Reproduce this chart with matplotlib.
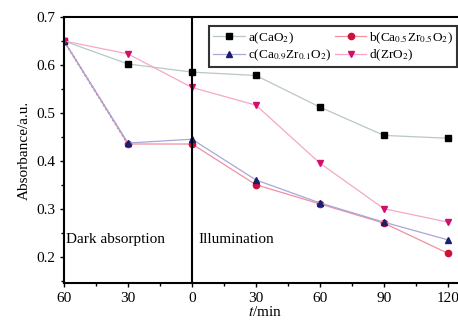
import matplotlib.pyplot as plt
from matplotlib.ticker import MultipleLocator, FuncFormatter

plt.rcParams['font.family'] = ['Liberation Serif', 'DejaVu Serif']
plt.rcParams['mathtext.fontset'] = 'stix'

# -----------------------------
# Data
# -----------------------------
t = [-60, -30, 0, 30, 60, 90, 120]
a_cao2 = [0.650, 0.602, 0.585, 0.578, 0.512, 0.453, 0.447]
b_ca5zr5 = [0.650, 0.435, 0.435, 0.350, 0.310, 0.270, 0.207]
c_ca9zr1 = [0.650, 0.437, 0.445, 0.360, 0.312, 0.272, 0.235]
d_zro2 = [0.650, 0.623, 0.553, 0.516, 0.395, 0.300, 0.272]

labels = ["a(CaO$_2$)", "b(Ca$_{0.5}$Zr$_{0.5}$O$_2$)",
          "c(Ca$_{0.9}$Zr$_{0.1}$O$_2$)", "d(ZrO$_2$)"]

# -----------------------------
# Figure
# -----------------------------
fig = plt.figure(figsize=(4.58, 3.2), dpi=100)
ax = fig.add_axes([64 / 458, 37 / 320, 402 / 458, 266 / 320])

la, = ax.plot(t, a_cao2, color="#b8c8c4", lw=0.9, marker="s", ms=4.5,
              mfc="black", mec="black", label=labels[0])
lb, = ax.plot(t, b_ca5zr5, color="#f090a0", lw=0.9, marker="o", ms=4.5,
              mfc="#d0103c", mec="#d0103c", label=labels[1])
lc, = ax.plot(t, c_ca9zr1, color="#a8a8d8", lw=0.9, marker="^", ms=4.5,
              mfc="#1c1c70", mec="#1c1c70", label=labels[2])
ld, = ax.plot(t, d_zro2, color="#f4a8c4", lw=0.9, marker="v", ms=4.5,
              mfc="#d0106c", mec="#d0106c", label=labels[3])

# dotted first segment of b/c
ax.plot(t[:2], b_ca5zr5[:2], color="#803080", lw=1.2, ls=":", zorder=1)

ax.axvline(0, color="black", lw=1.5)

ax.set_xlim(-60, 128.5)
ax.set_ylim(0.145, 0.7)
ax.xaxis.set_major_locator(MultipleLocator(30))
ax.xaxis.set_minor_locator(MultipleLocator(15))
ax.yaxis.set_major_locator(MultipleLocator(0.1))
ax.yaxis.set_minor_locator(MultipleLocator(0.05))
ax.xaxis.set_major_formatter(FuncFormatter(lambda v, p: f"{abs(int(v))}"))
ax.yaxis.set_major_formatter(FuncFormatter(lambda v, p: f"{v:.1f}"))
ax.tick_params(which="both", direction="out", labelsize=11, width=1)
ax.tick_params(which="major", length=3)
ax.tick_params(which="minor", length=2)

for s in ax.spines.values():
    s.set_linewidth(1.5)

ax.set_xlabel("$t$/min", fontsize=11, labelpad=0)
ax.set_ylabel("Absorbance/a.u.", fontsize=11, labelpad=4)

ax.text(-59, 0.228, "Dark absorption", fontsize=11)
ax.text(3, 0.228, "Illumination", fontsize=11)

leg = ax.legend([la, lc, lb, ld], [labels[0], labels[2], labels[1], labels[3]],
                loc="upper left", bbox_to_anchor=(0.345, 0.99),
                ncol=2, fontsize=9.5, frameon=True, fancybox=False,
                edgecolor="black", borderpad=0.3, handlelength=2.4,
                handletextpad=0.2, columnspacing=0.3, labelspacing=0.15)
leg.get_frame().set_linewidth(1.5)

fig.savefig("out.png", dpi=100)
